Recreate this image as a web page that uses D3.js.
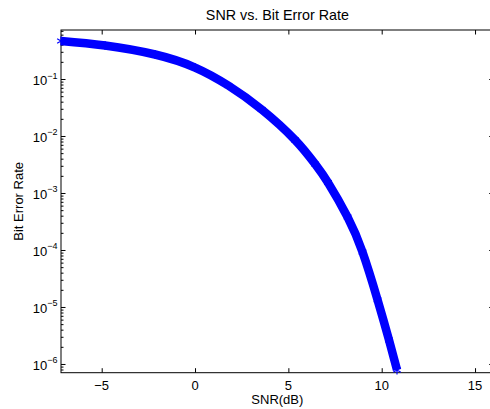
<!DOCTYPE html>
<html>
<head>
<meta charset="utf-8">
<script src="https://cdn.jsdelivr.net/npm/d3@7"></script>
<style>
  body { margin: 0; background: #fff; }
  text { font-family: "Liberation Sans", Arial, Helvetica, sans-serif; fill: #000; }
</style>
</head>
<body>
<div id="chart"></div>
<script>
// values
const snrDb = [-7.18, -4.82, -2.14, 0, 1.78, 3.57, 5.36, 6.43, 7.12, 8.17, 8.97, 9.78, 10.39, 10.82];
const ber = [0.464, 0.387, 0.269, 0.159, 0.0769, 0.0292, 0.00851, 0.00323, 0.00153, 3.79e-4, 9.23e-5, 1.33e-5, 2.64e-6, 7.85e-7];
const xTicks = [-5, 0, 5, 10, 15];
const yExponents = [-6, -5, -4, -3, -2, -1];

const width = 490, height = 409;
const plotLeft = 61, plotTop = 30, plotRight = 493.7, plotBottom = 372.7;

const svg = d3.select("#chart").append("svg")
    .attr("width", width)
    .attr("height", height);

const x = d3.scaleLinear().domain([-7.18, 16]).range([plotLeft, plotRight]);
const y = d3.scaleLog().domain([7.03e-7, 0.724]).range([plotBottom, plotTop]);

const majorY = yExponents.map(e => Math.pow(10, e));
const minorY = y.ticks().filter(v => !majorY.some(m => Math.abs(v - m) / m < 1e-6));

// ticks (inward, on all four sides)
function tickAxis(axis, tx, ty) {
    const g = svg.append("g").attr("transform", `translate(${tx},${ty})`).call(axis);
    g.select(".domain").remove();
    g.selectAll("line").attr("stroke", "#000");
    return g;
}
tickAxis(d3.axisBottom(x).tickValues(xTicks).tickSize(-4.5).tickFormat(""), 0, plotBottom);
tickAxis(d3.axisTop(x).tickValues(xTicks).tickSize(-4.5).tickFormat(""), 0, plotTop);
tickAxis(d3.axisLeft(y).tickValues(majorY).tickSize(-4.5).tickFormat(""), plotLeft, 0);
tickAxis(d3.axisLeft(y).tickValues(minorY).tickSize(-2.5).tickFormat(""), plotLeft, 0);
tickAxis(d3.axisRight(y).tickValues(majorY).tickSize(-4.5).tickFormat(""), plotRight, 0);
tickAxis(d3.axisRight(y).tickValues(minorY).tickSize(-2.5).tickFormat(""), plotRight, 0);

// box
svg.append("rect")
    .attr("x", plotLeft).attr("y", plotTop)
    .attr("width", plotRight - plotLeft).attr("height", plotBottom - plotTop)
    .attr("fill", "none").attr("stroke", "#000").attr("stroke-width", 1);

// x tick labels
svg.append("g").selectAll("text")
    .data(xTicks)
    .join("text")
    .attr("x", d => x(d))
    .attr("y", 389.5)
    .attr("text-anchor", "middle")
    .attr("font-size", 13)
    .text(d => d < 0 ? "\u2212" + Math.abs(d) : d);

// y tick labels, 10 with superscript exponent
const yl = svg.append("g").selectAll("text")
    .data(yExponents)
    .join("text")
    .attr("x", 57.5)
    .attr("y", d => y(Math.pow(10, d)) + 5.8)
    .attr("text-anchor", "end")
    .attr("font-size", 13);
yl.append("tspan").text("10");
yl.append("tspan")
    .attr("dy", -6.3)
    .attr("font-size", 9)
    .text(d => "\u2212" + Math.abs(d));

// curve
const pts = snrDb.map((s, i) => [s, ber[i]]);
const line = d3.line()
    .x(d => x(d[0]))
    .y(d => y(d[1]))
    .curve(d3.curveNatural);

svg.append("path")
    .datum(pts)
    .attr("d", line)
    .attr("fill", "none")
    .attr("stroke", "#0000ff")
    .attr("stroke-width", 8.5)
    .attr("stroke-linejoin", "round");

svg.append("g").selectAll("path")
    .data(pts)
    .join("path")
    .attr("transform", d => `translate(${x(d[0])},${y(d[1])})`)
    .attr("d", d3.symbol().type(d3.symbolAsterisk).size(55))
    .attr("fill", "none")
    .attr("stroke", "#0000ff")
    .attr("stroke-width", 1.2);

// title and axis labels
svg.append("text")
    .attr("x", (plotLeft + plotRight) / 2)
    .attr("y", 20)
    .attr("text-anchor", "middle")
    .attr("font-size", 14.3)
    .text("SNR vs. Bit Error Rate");

svg.append("text")
    .attr("x", (plotLeft + plotRight) / 2)
    .attr("y", 404)
    .attr("text-anchor", "middle")
    .attr("font-size", 13)
    .text("SNR(dB)");

svg.append("text")
    .attr("transform", `translate(23,${(plotTop + plotBottom) / 2}) rotate(-90)`)
    .attr("text-anchor", "middle")
    .attr("font-size", 13)
    .text("Bit Error Rate");
</script>
</body>
</html>
